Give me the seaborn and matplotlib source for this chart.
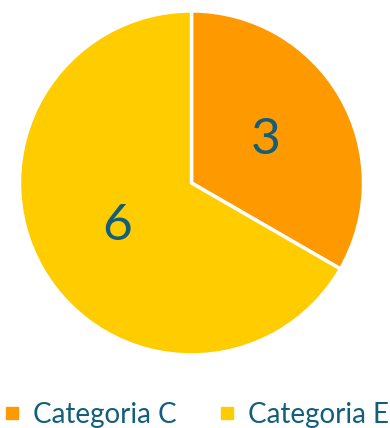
import matplotlib
matplotlib.use("Agg")
import matplotlib.pyplot as plt
import seaborn as sns
from matplotlib.lines import Line2D

sns.set_theme(style="white")
plt.rcParams['font.family'] = ['Lato', 'DejaVu Sans']

categories = ["Categoria C", "Categoria E"]
values = [3, 6]
colors = ["#FF9900", "#FFCC00"]
text_color = "#135E7A"

fig = plt.figure(figsize=(3.9, 4.28), dpi=100)
ax = fig.add_axes([0.05, 0.1706, 0.882, 0.804])
wedges, texts = ax.pie(values, labels=[str(v) for v in values], colors=colors,
                       startangle=90, counterclock=False, labeldistance=0.5,
                       wedgeprops=dict(edgecolor="white", linewidth=2.5),
                       textprops=dict(color=text_color, fontsize=37))
for t in texts:
    t.set_horizontalalignment("center")
    t.set_verticalalignment("center")
ax.set_xlim(-1, 1)
ax.set_ylim(-1, 1)
ax.set_aspect("equal")
ax.axis("off")

handles = [Line2D([0], [0], marker="s", linestyle="", markersize=9,
                  markerfacecolor=c, markeredgecolor=c) for c in colors]
leg = fig.legend(handles, categories, loc="center", bbox_to_anchor=(0.5, 0.03),
                 ncol=2, frameon=False, fontsize=20, handletextpad=0.35,
                 columnspacing=1.4, handlelength=0.8)
for t in leg.get_texts():
    t.set_color(text_color)

fig.savefig("out.png", dpi=100)
